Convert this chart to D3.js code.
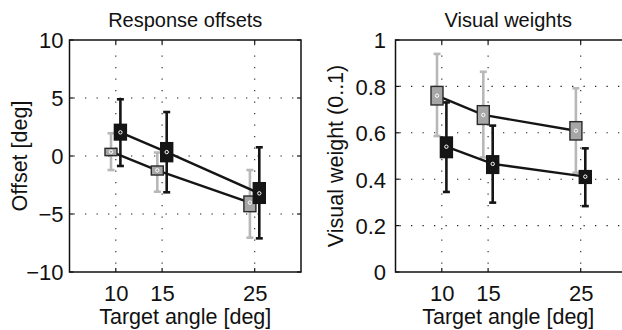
<!DOCTYPE html>
<html>
<head>
<meta charset="utf-8">
<script src="https://cdn.jsdelivr.net/npm/d3@7"></script>
<style>
  html, body { margin: 0; padding: 0; background: #fff; }
  svg { display: block; }
  text { font-family: "Liberation Sans", Arial, Helvetica, sans-serif; fill: #111; }
</style>
</head>
<body>
<svg id="chart" width="622" height="330"></svg>
<script>
// ---- Data ----
const angles = [10, 15, 25];
const xTicks = [10, 15, 25];

const offsetYTicks = [-10, -5, 0, 5, 10];
const offsetGrayMean  = [0.37, -1.23, -4.02];
const offsetGrayBoxLo = [0.03, -1.64, -4.80];
const offsetGrayBoxHi = [0.66, -0.86, -3.45];
const offsetGrayErrLo = [-1.21, -3.08, -7.04];
const offsetGrayErrHi = [1.96, 0.30, -1.21];
const offsetBlackMean  = [2.04, 0.34, -3.22];
const offsetBlackBoxLo = [1.38, -0.49, -4.08];
const offsetBlackBoxHi = [2.73, 1.15, -2.30];
const offsetBlackErrLo = [-0.86, -3.13, -7.10];
const offsetBlackErrHi = [4.89, 3.79, 0.75];

const weightYTicks = [0, 0.2, 0.4, 0.6, 0.8, 1];
const weightGrayMean  = [0.760, 0.677, 0.609];
const weightGrayBoxLo = [0.720, 0.636, 0.569];
const weightGrayBoxHi = [0.800, 0.717, 0.648];
const weightGrayErrLo = [0.586, 0.494, 0.428];
const weightGrayErrHi = [0.940, 0.863, 0.792];
const weightBlackMean  = [0.540, 0.466, 0.411];
const weightBlackBoxLo = [0.493, 0.425, 0.382];
const weightBlackBoxHi = [0.582, 0.501, 0.437];
const weightBlackErrLo = [0.345, 0.299, 0.284];
const weightBlackErrHi = [0.731, 0.631, 0.533];

// ---- Drawing ----
const svg = d3.select("#chart");
const fmtMinus = v => (v < 0 ? "\u2212" + Math.abs(v) : String(v));
const FONT = '"Liberation Sans", Arial, sans-serif';

function series(mean, bLo, bHi, eLo, eHi) {
  return angles.map((a, i) => ({ a, m: mean[i], bl: bLo[i], bh: bHi[i], el: eLo[i], eh: eHi[i] }));
}

function panel(cfg) {
  const g = svg.append("g");
  const x = d3.scaleLinear().domain([5, 30]).range([cfg.left, cfg.right]);
  const y = d3.scaleLinear().domain(cfg.yDomain).range([272, 40]);

  // grid
  const gridStyle = sel => sel.attr("stroke", "#222").attr("stroke-width", 1.1)
    .attr("stroke-dasharray", "1.3,10.2").attr("fill", "none");
  g.selectAll(".gx").data(xTicks).join("line")
    .attr("x1", d => x(d)).attr("x2", d => x(d)).attr("y1", y.range()[1] + 4).attr("y2", y.range()[0])
    .call(gridStyle);
  g.selectAll(".gy").data(cfg.yTicks.slice(1, -1)).join("line")
    .attr("y1", d => y(d)).attr("y2", d => y(d)).attr("x1", cfg.left + 4).attr("x2", cfg.right)
    .call(gridStyle);

  // axes via d3
  const xAxis = d3.axisBottom(x).tickValues(xTicks).tickSize(0).tickPadding(0).tickFormat(d3.format("d"));
  const ax = g.append("g").attr("transform", "translate(0,272)").call(xAxis);
  ax.select(".domain").remove();
  ax.selectAll("text").attr("y", 28.5).attr("dy", null).attr("font-size", 22).attr("fill", "#111")
    .attr("font-family", FONT);

  const yAxis = d3.axisLeft(y).tickValues(cfg.yTicks).tickSize(0).tickPadding(0).tickFormat(cfg.fmt);
  const ay = g.append("g").attr("transform", `translate(${cfg.left},0)`).call(yAxis);
  ay.select(".domain").remove();
  ay.selectAll("text").attr("x", -cfg.yLabelGap).attr("dy", "0.36em").attr("font-size", 22).attr("fill", "#111")
    .attr("font-family", FONT);

  // inward ticks
  const tk = g.append("g").attr("stroke", "#111").attr("stroke-width", 1.2);
  xTicks.forEach(t => {
    tk.append("line").attr("x1", x(t)).attr("x2", x(t)).attr("y1", 272).attr("y2", 268);
    tk.append("line").attr("x1", x(t)).attr("x2", x(t)).attr("y1", 40).attr("y2", 44);
  });
  cfg.yTicks.forEach(t => {
    tk.append("line").attr("x1", cfg.left).attr("x2", cfg.left + 4).attr("y1", y(t)).attr("y2", y(t));
    tk.append("line").attr("x1", cfg.right).attr("x2", cfg.right - 4).attr("y1", y(t)).attr("y2", y(t));
  });

  // frame
  g.append("rect").attr("x", cfg.left).attr("y", 40).attr("width", cfg.right - cfg.left).attr("height", 232)
    .attr("fill", "none").attr("stroke", "#111").attr("stroke-width", 1.5);

  const gray = cfg.gray, black = cfg.black;
  const dxG = -4.8, dxB = 4.6, hw = 6, cap = 3.5;

  // error bars
  function errbars(data, dx, color) {
    const eg = g.append("g").attr("stroke", color).attr("stroke-width", 2.6);
    data.forEach(d => {
      const cx = x(d.a) + dx;
      eg.append("line").attr("x1", cx).attr("x2", cx).attr("y1", y(d.el)).attr("y2", y(d.eh));
      eg.append("line").attr("x1", cx - cap).attr("x2", cx + cap).attr("y1", y(d.el)).attr("y2", y(d.el));
      eg.append("line").attr("x1", cx - cap).attr("x2", cx + cap).attr("y1", y(d.eh)).attr("y2", y(d.eh));
    });
  }
  errbars(gray, dxG, "#b8b8b8");
  errbars(black, dxB, "#151515");

  // connecting lines
  const line = dx => d3.line().x(d => x(d.a) + dx).y(d => y(d.m));
  g.append("path").datum(gray).attr("d", line(dxG)).attr("fill", "none").attr("stroke", "#151515").attr("stroke-width", 2.4);
  g.append("path").datum(black).attr("d", line(dxB)).attr("fill", "none").attr("stroke", "#151515").attr("stroke-width", 2.4);

  // boxes
  function boxes(data, dx, fill, stroke) {
    g.append("g").selectAll("rect").data(data).join("rect")
      .attr("x", d => x(d.a) + dx - hw).attr("width", 2 * hw)
      .attr("y", d => y(d.bh)).attr("height", d => y(d.bl) - y(d.bh))
      .attr("fill", fill).attr("stroke", stroke).attr("stroke-width", 1.4);
    g.append("g").selectAll("circle").data(data).join("circle")
      .attr("cx", d => x(d.a) + dx).attr("cy", d => y(d.m)).attr("r", 1.7)
      .attr("fill", "none").attr("stroke", "#fff").attr("stroke-width", 1);
  }
  boxes(gray, dxG, "#a6a6a6", "#2a2a2a");
  boxes(black, dxB, "#151515", "#151515");

  // titles / labels
  g.append("text").attr("x", (cfg.left + cfg.right) / 2 - (cfg.titleShift || 0)).attr("y", 27)
    .attr("text-anchor", "middle").attr("font-size", 20).text(cfg.title);
  g.append("text").attr("x", (cfg.left + cfg.right) / 2 - (cfg.xLabelShift || 0)).attr("y", 324)
    .attr("text-anchor", "middle").attr("font-size", 21.5).text("Target angle [deg]");
  g.append("text").attr("transform", `translate(${cfg.yLabelX},156) rotate(-90)`)
    .attr("text-anchor", "middle").attr("font-size", 21.5).text(cfg.yLabel);
}

panel({
  left: 69.5, right: 301, yDomain: [-10, 10], yTicks: offsetYTicks, fmt: fmtMinus,
  yLabelGap: 6, yLabelX: 27, title: "Response offsets", yLabel: "Offset [deg]",
  gray: series(offsetGrayMean, offsetGrayBoxLo, offsetGrayBoxHi, offsetGrayErrLo, offsetGrayErrHi),
  black: series(offsetBlackMean, offsetBlackBoxLo, offsetBlackBoxHi, offsetBlackErrLo, offsetBlackErrHi)
});
panel({
  left: 395.5, right: 627, yDomain: [0, 1], yTicks: weightYTicks, fmt: d => String(d),
  yLabelGap: 9.5, yLabelX: 343, title: "Visual weights", yLabel: "Visual weight (0..1)",
  titleShift: 3, xLabelShift: 3,
  gray: series(weightGrayMean, weightGrayBoxLo, weightGrayBoxHi, weightGrayErrLo, weightGrayErrHi),
  black: series(weightBlackMean, weightBlackBoxLo, weightBlackBoxHi, weightBlackErrLo, weightBlackErrHi)
});
</script>
</body>
</html>
